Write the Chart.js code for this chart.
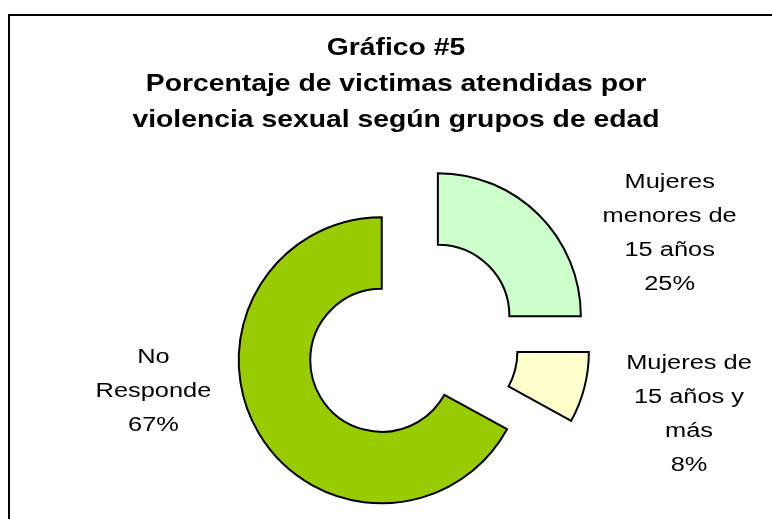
<!DOCTYPE html>
<html>
<head>
<meta charset="utf-8">
<script src="https://cdn.jsdelivr.net/npm/chart.js@4.4.1/dist/chart.umd.min.js"></script>
<style>
  html, body { margin: 0; padding: 0; background: #fff; }
  #wrap { width: 772px; height: 519px; }
</style>
</head>
<body>
<div id="wrap"><canvas id="chart" width="772" height="519"></canvas></div>
<script>
const titleLines = ["Gráfico #5", "Porcentaje de victimas atendidas por", "violencia sexual según grupos de edad"]
const categories = [["Mujeres", "menores de", "15 años"], ["Mujeres de", "15 años y", "más"], ["No", "Responde"]]
const values = [25, 8, 67]
const sliceColors = ["#CCFFCC", "#FFFFCC", "#99CC00"]

// how far each slice is pulled out (px)
const explode = [38, 36, 34]
// label placement: angle shift (deg) from the slice middle, distance from centre (px)
const labelShift = [22, 0, 20]
const labelDist = [281, 287, 262]

function stretchText(ctx, text, x, y, sx) {
  ctx.save()
  ctx.translate(x, y)
  ctx.scale(sx, 1)
  ctx.fillText(text, 0, 0)
  ctx.restore()
}

const decor = {
  id: "decor",
  beforeDraw(chart) {
    const ctx = chart.ctx
    ctx.save()
    ctx.fillStyle = "#fff"
    ctx.fillRect(0, 0, chart.width, chart.height)
    ctx.strokeStyle = "#000"
    ctx.lineWidth = 2
    ctx.beginPath()
    ctx.moveTo(9, chart.height)
    ctx.lineTo(9, 15)
    ctx.lineTo(chart.width, 15)
    ctx.stroke()
    ctx.restore()
  },
  // pull every slice out by the same distance, keeping the ring radii
  beforeDatasetsDraw(chart) {
    const ctx = chart.ctx
    const meta = chart.getDatasetMeta(0)
    meta.data.forEach((arc, i) => {
      const mid = (arc.startAngle + arc.endAngle) / 2
      ctx.save()
      ctx.translate(Math.cos(mid) * explode[i], Math.sin(mid) * explode[i])
      arc.draw(ctx)
      ctx.restore()
    })
    return false
  },
  afterDraw(chart) {
    const ctx = chart.ctx
    ctx.save()
    ctx.fillStyle = "#000"
    ctx.textAlign = "center"
    ctx.textBaseline = "alphabetic"

    ctx.font = "bold 24px 'Liberation Sans', Arial, sans-serif"
    titleLines.forEach((line, i) => stretchText(ctx, line, 396, 55 + i * 36, 1.18))

    ctx.font = "20px 'Liberation Sans', Arial, sans-serif"
    ctx.textBaseline = "middle"
    const meta = chart.getDatasetMeta(0)
    meta.data.forEach((arc, i) => {
      const mid = (arc.startAngle + arc.endAngle) / 2 + labelShift[i] * Math.PI / 180
      const x = arc.x + Math.cos(mid) * labelDist[i]
      const y = arc.y + Math.sin(mid) * labelDist[i]
      const lines = categories[i].concat([values[i] + "%"])
      lines.forEach((line, j) => {
        stretchText(ctx, line, x, y + (j - (lines.length - 1) / 2) * 34, 1.27)
      })
    })
    ctx.restore()
  }
}

new Chart(document.getElementById("chart"), {
  type: "doughnut",
  data: {
    labels: categories.map(c => c.join(" ")),
    datasets: [{
      data: values,
      backgroundColor: sliceColors,
      borderColor: "#000",
      borderWidth: 2,
      borderJoinStyle: "miter"
    }]
  },
  options: {
    responsive: false,
    devicePixelRatio: 1,
    animation: false,
    events: [],
    radius: 143,
    cutout: "50%",
    layout: {
      padding: { left: 50, right: 0, top: 170, bottom: 3 }
    },
    plugins: {
      legend: { display: false },
      title: { display: false },
      tooltip: { enabled: false }
    }
  },
  plugins: [decor]
})
</script>
</body>
</html>
